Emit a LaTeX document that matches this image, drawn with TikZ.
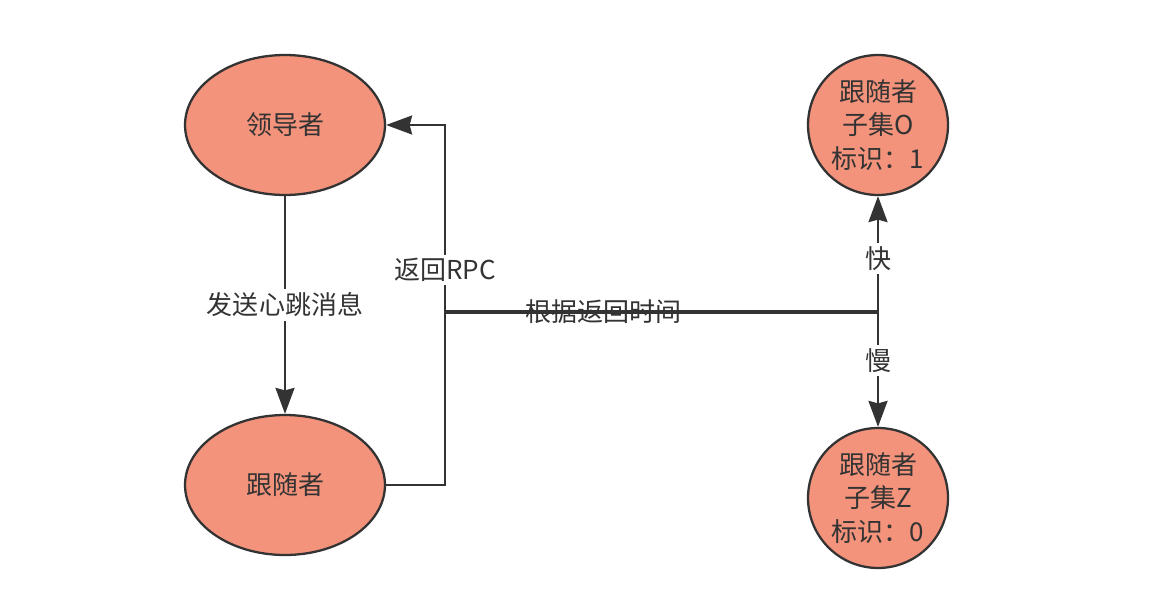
\documentclass[tikz,border=0pt]{standalone}
\usepackage{fontspec}
\setmainfont{Noto Sans CJK SC}
\usetikzlibrary{shapes.geometric,arrows.meta}
\definecolor{salmon}{HTML}{F4937B}
\definecolor{ink}{HTML}{333333}

\begin{document}
\begin{tikzpicture}[x=0.02cm, y=-0.02cm, >={Stealth[length=0.52cm,width=0.38cm,inset=0.05cm]},
    line width=1.3pt, draw=ink, text=ink, font=\fontsize{14.8}{19}\selectfont,
    role/.style={draw, fill=salmon, ellipse, inner sep=0pt, minimum width=4cm, minimum height=2.8cm},
    subset/.style={draw, fill=salmon, circle, inner sep=0pt, minimum size=2.8cm, align=center},
    tag/.style={fill=white, inner sep=2pt}]
        \useasboundingbox (0,0) rectangle (1158,608);

        % Roles
        \node[role] (leader) at (285,125) {领导者};
        \node[role] (follower) at (285,485) {跟随者};

        % Follower subsets
        \node[subset] (subO) at (878,125) {跟随者\\子集O\\标识：1};
        \node[subset] (subZ) at (878,498) {跟随者\\子集Z\\标识：0};

        \coordinate (turn) at (445,312);
        \coordinate (fork) at (878,312);

        % Heartbeat and reply
        \draw[->] (leader) -- (follower) node[midway, tag] (beat) {发送心跳消息};
        \draw[->] (follower.east) -| (turn) |- (leader.east);
        \node[tag] (rpc) at (445,270) {返回RPC};

        % Split by reply time
        \draw[line width=2.2pt] (turn) -- (fork);
        \node (bytime) at (603,312) {根据返回时间};
        \draw[->] (fork) -- (subO) node[pos=0.46, tag] (fast) {快};
        \draw[->] (fork) -- (subZ) node[pos=0.42, tag] (slow) {慢};
    \end{tikzpicture}
\end{document}
